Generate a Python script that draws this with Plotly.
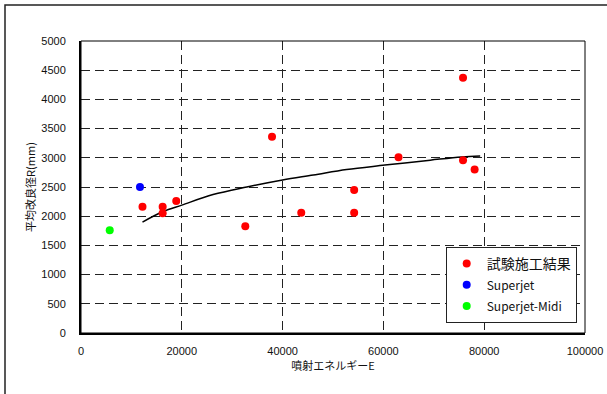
import plotly.graph_objects as go

# Data
test_x = [12200, 16200, 16200, 18900, 32600, 37900, 43700, 54200, 54200, 63000, 75800, 75800, 78100]
test_y = [2160, 2160, 2050, 2260, 1830, 3360, 2060, 2060, 2450, 3010, 4370, 2960, 2800]
sj_x = [11700]
sj_y = [2500]
midi_x = [5700]
midi_y = [1760]
curve_x = [12200, 16300, 20000, 26200, 32900, 40000, 46100, 52700, 60300, 69300, 75500, 79200]
curve_y = [1900, 2080, 2190, 2370, 2500, 2620, 2705, 2800, 2875, 2960, 3015, 3030]
x_ticks = [0, 20000, 40000, 60000, 80000, 100000]
y_ticks = [0, 500, 1000, 1500, 2000, 2500, 3000, 3500, 4000, 4500, 5000]

W, H = 607, 394
L, R, T, B = 81, 22, 41, 61

font_main = "Noto Sans CJK JP, Liberation Sans, sans-serif"
font_tick = "Liberation Sans, Arial, sans-serif"

fig = go.Figure()
fig.add_trace(go.Scatter(x=curve_x, y=curve_y, mode="lines", line=dict(color="black", width=1.5, shape="spline"),
                         showlegend=False, hoverinfo="skip"))
fig.add_trace(go.Scatter(x=test_x, y=test_y, mode="markers", name="試験施工結果",
                         marker=dict(color="#FF0000", size=8), legendrank=1))
fig.add_trace(go.Scatter(x=sj_x, y=sj_y, mode="markers", name="<span style='font-size:12px'>Superjet</span>",
                         marker=dict(color="#0000FF", size=8), legendrank=2))
fig.add_trace(go.Scatter(x=midi_x, y=midi_y, mode="markers", name="<span style='font-size:12px'>Superjet-Midi</span>",
                         marker=dict(color="#00FF00", size=8), legendrank=3))

fig.update_layout(
    width=W, height=H,
    margin=dict(l=L, r=R, t=T, b=B, autoexpand=False),
    paper_bgcolor="white", plot_bgcolor="white",
    font=dict(family=font_main, size=11, color="#111"),
    showlegend=True,
    legend=dict(x=(445.7 - L) / (W - L - R), y=(333.3 - 247.3) / (H - T - B), xanchor="left", yanchor="top",
                bgcolor="white", bordercolor="#222", borderwidth=1,
                font=dict(size=14, family=font_main, color="#111"), tracegroupgap=0),
    xaxis=dict(range=[0, 100000], tickvals=x_ticks, ticktext=[str(v) for v in x_ticks],
               showgrid=True, gridcolor="#222", gridwidth=1, griddash="9px,5px",
               zeroline=False, showline=True, linecolor="black", linewidth=2, ticks="",
               ticklabelstandoff=7, automargin=False,
               tickfont=dict(family=font_tick, size=11, color="#111"),
               title=dict(text="噴射エネルギーE", font=dict(size=11), standoff=4)),
    yaxis=dict(range=[0, 5000], tickvals=y_ticks, ticktext=[str(v) for v in y_ticks],
               showgrid=True, gridcolor="#222", gridwidth=1, griddash="9px,5px",
               zeroline=False, showline=True, linecolor="black", linewidth=2, ticks="",
               ticklabelstandoff=11, automargin=False,
               tickfont=dict(family=font_tick, size=11, color="#111"),
               title=dict(text="平均改良径R(mm)", font=dict(size=11), standoff=3)),
    shapes=[
        dict(type="rect", xref="paper", yref="paper", x0=0, x1=1, y0=0, y1=1,
             line=dict(color="black", width=1), layer="above"),
        dict(type="rect", xref="paper", yref="paper",
             x0=(5 - L) / (W - L - R), x1=(W + 20 - L) / (W - L - R),
             y0=(H - B - (H + 20)) / (H - T - B), y1=(H - B - 5) / (H - T - B),
             line=dict(color="#222", width=1.5), layer="below"),
    ],
)

fig.write_html("out.html", config={"displayModeBar": False},
               post_script="document.body.style.margin='0px';")
